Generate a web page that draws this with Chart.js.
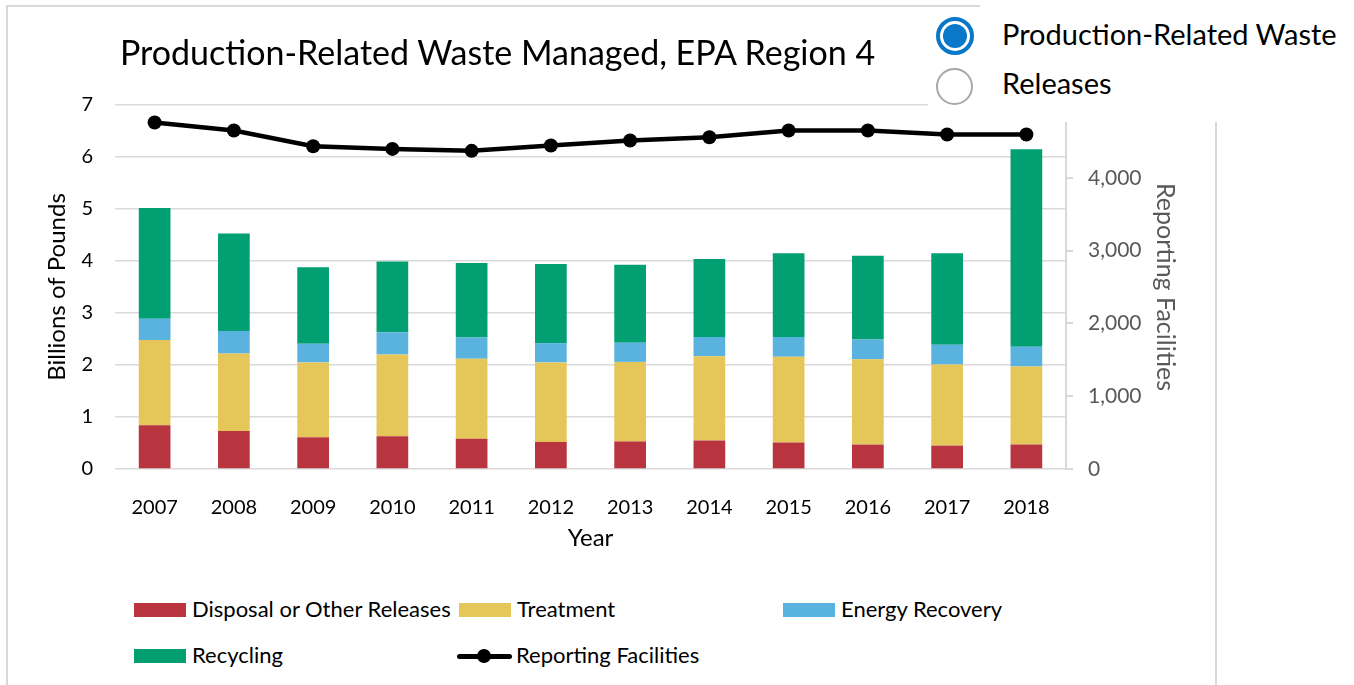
<!DOCTYPE html>
<html>
<head>
<meta charset="utf-8">
<script src="https://cdn.jsdelivr.net/npm/chart.js@4.4.0/dist/chart.umd.min.js"></script>
<style>
  body { margin:0; width:1354px; height:685px; overflow:hidden; position:relative; background:#fff; font-family:Lato, sans-serif; color:#000; }
  #frame { position:absolute; left:6px; top:5px; width:1207px; height:700px; border:2px solid #d9d9d9; border-bottom:none; }
  #wrap { position:absolute; left:0; top:0; width:1216px; height:570px; }
  #title { position:absolute; left:120px; top:31px; font-size:34px; line-height:41px; white-space:nowrap; }
  .panel { position:absolute; background:#fff; }
  .radio { position:absolute; left:936px; width:38px; height:38px; border-radius:50%; box-sizing:border-box; }
  .radio.on { top:17px; border:4px solid #0a78c8; }
  .radio.on::after { content:''; position:absolute; left:3px; top:3px; width:24px; height:24px; border-radius:50%; background:#0a78c8; }
  .radio.off { top:68px; border:2px solid #a8a8a8; width:37px; height:37px; }
  .rlabel { position:absolute; left:1002px; font-size:29px; line-height:35px; white-space:nowrap; }
  #legend { position:absolute; left:134px; top:596px; display:grid; grid-template-columns:325px 324px 324px; grid-auto-rows:46px; font-size:22px; line-height:26px; }
  .item { display:flex; align-items:flex-start; white-space:nowrap; }
  .swatch { width:52px; height:14px; margin-top:7px; margin-right:6px; }
  .lineswatch { position:relative; width:55px; height:14px; margin-top:7px; margin-left:-2px; margin-right:4px; }
  .lineswatch::before { content:''; position:absolute; left:0; right:0; top:5px; height:5px; border-radius:3px; background:#000; }
  .lineswatch::after { content:''; position:absolute; left:20px; top:0; width:14px; height:14px; border-radius:50%; background:#000; }
</style>
</head>
<body>
<div id="frame"></div>
<div id="wrap"><canvas id="chart"></canvas></div>
<div id="title">Production-Related Waste Managed, EPA Region 4</div>
<div class="panel" style="left:980px;top:0;width:374px;height:122px;"></div>
<div class="panel" style="left:928px;top:14px;width:60px;height:108px;"></div>
<div class="radio on"></div>
<div class="radio off"></div>
<div class="rlabel" style="top:16px;">Production-Related Waste</div>
<div class="rlabel" style="top:65px;">Releases</div>
<div id="legend"></div>
<script>
// values (billions of pounds / facility counts)
const years = ['2007','2008','2009','2010','2011','2012','2013','2014','2015','2016','2017','2018'];
const disposal   = [0.84, 0.73, 0.61, 0.63, 0.58, 0.52, 0.53, 0.55, 0.51, 0.47, 0.45, 0.47];
const treatment  = [1.64, 1.49, 1.44, 1.57, 1.54, 1.53, 1.53, 1.62, 1.65, 1.64, 1.56, 1.50];
const energy     = [0.41, 0.435, 0.36, 0.43, 0.41, 0.37, 0.37, 0.37, 0.38, 0.38, 0.38, 0.38];
const recycling  = [2.13, 1.875, 1.47, 1.36, 1.43, 1.52, 1.50, 1.50, 1.61, 1.61, 1.76, 3.80];
const facilities = [4760, 4650, 4433, 4397, 4370, 4444, 4513, 4558, 4650, 4650, 4595, 4595];

const leftTicks = [0, 1, 2, 3, 4, 5, 6, 7];
const rightTicks = [0, 1000, 2000, 3000, 4000, 5000];

const GRID = '#d9d9d9';
const font = (size) => ({ family: 'Lato', size: size });

function bar(label, data, color) {
  return { type:'bar', label, data, backgroundColor:color, borderWidth:0, yAxisID:'y', order:2,
           barPercentage:0.4, categoryPercentage:1 };
}

const ctx = document.getElementById('chart').getContext('2d');
const chart = new Chart(ctx, {
  data: {
    labels: years,
    datasets: [
      bar('Disposal or Other Releases', disposal, '#b83540'),
      bar('Treatment', treatment, '#e5c659'),
      bar('Energy Recovery', energy, '#5ab3df'),
      bar('Recycling', recycling, '#029f72'),
      { type:'line', label:'Reporting Facilities', data:facilities, yAxisID:'y1', order:0,
        borderColor:'#000', backgroundColor:'#000', borderWidth:4.5, tension:0,
        pointRadius:7, pointBackgroundColor:'#000', pointBorderWidth:0 }
    ]
  },
  options: {
    responsive:true, maintainAspectRatio:false, animation:false, devicePixelRatio:1,
    layout: { padding: { left:43, top:105, right:0, bottom:0 } },
    plugins: { legend:{ display:false }, title:{ display:false }, tooltip:{ enabled:false } },
    scales: {
      x: {
        stacked:true,
        grid:{ display:false },
        border:{ display:false },
        ticks:{ color:'#000', font:font(20), padding:19, maxRotation:0 },
        title:{ display:true, text:'Year', color:'#000', font:font(24), padding:{ top:0, bottom:17 } },
        afterFit: s => { s.height = 101; }
      },
      y: {
        position:'left', stacked:true, min:0, max:7,
        afterBuildTicks: s => { s.ticks = leftTicks.map(v => ({ value:v })); },
        grid:{ color:GRID, lineWidth:1.5, drawTicks:false },
        border:{ display:false },
        ticks:{ color:'#000', font:font(20), padding:22 },
        title:{ display:true, text:'Billions of Pounds', color:'#000', font:font(24), padding:{ top:0, bottom:0 } },
        afterFit: s => { s.width = 72; }
      },
      y1: {
        position:'right', min:0, max:5000,
        afterBuildTicks: s => { s.ticks = rightTicks.map(v => ({ value:v })); },
        grid:{ drawOnChartArea:false, drawTicks:true, tickLength:7, color:GRID, lineWidth:2 },
        border:{ display:true, color:GRID, width:2 },
        ticks:{ color:'#595959', font:font(21), padding:15, callback: v => v.toLocaleString('en-US') },
        title:{ display:true, text:'Reporting Facilities', color:'#595959', font:font(25), padding:{ top:36, bottom:0 } },
        afterFit: s => { s.width = 150; }
      }
    }
  }
});

// legend drawn as html from the chart's own datasets
const legendEl = document.getElementById('legend');
chart.data.datasets.forEach(ds => {
  const item = document.createElement('div');
  item.className = 'item';
  const sw = document.createElement('div');
  if (ds.type === 'line') {
    sw.className = 'lineswatch';
  } else {
    sw.className = 'swatch';
    sw.style.background = ds.backgroundColor;
  }
  const txt = document.createElement('span');
  txt.textContent = ds.label;
  item.appendChild(sw);
  item.appendChild(txt);
  legendEl.appendChild(item);
});
</script>
</body>
</html>
